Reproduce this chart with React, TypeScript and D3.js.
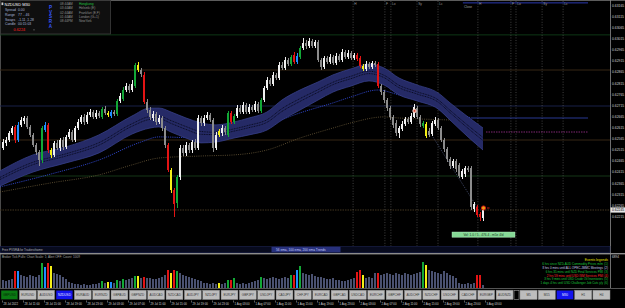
import React from "react";
import * as d3 from "d3";

// Prices are stored in points (0.00001) above BASE_PRICE
const BASE_PRICE = 0.62;

const opens = [
  524, 547, 560, 592, 619, 560, 628, 646, 659, 619,
  583, 538, 506, 470, 605, 628, 515, 493, 547, 524,
  560, 529, 574, 596, 560, 614, 641, 664, 641, 673,
  686, 664, 682, 664, 700, 682, 668, 686, 677, 736,
  745, 785, 803, 785, 803, 898, 875, 853, 731, 695,
  659, 677, 641, 659, 614, 538, 425, 335, 277, 394,
  524, 502, 538, 515, 551, 524, 659, 637, 659, 673,
  650, 524, 583, 592, 614, 583, 682, 641, 668, 704,
  686, 718, 686, 709, 695, 722, 691, 740, 794, 830,
  812, 853, 839, 898, 884, 920, 902, 943, 911, 934,
  974, 997, 983, 1006, 983, 1001, 920, 889, 929, 911,
  934, 907, 938, 920, 956, 934, 952, 929, 943, 929,
  893, 880, 902, 889, 907, 902, 803, 776, 740, 704,
  664, 637, 592, 610, 632, 655, 641, 664, 704, 664,
  623, 632, 601, 587, 632, 650, 614, 560, 520, 475,
  443, 466, 448, 394, 407, 434, 434, 250, 259, 227,
  209,
];
const highs = [
  565, 574, 601, 623, 628, 641, 664, 668, 668, 628,
  592, 547, 515, 623, 641, 637, 524, 556, 560, 569,
  574, 583, 610, 605, 623, 655, 673, 677, 686, 700,
  695, 695, 691, 709, 713, 691, 695, 695, 745, 772,
  799, 817, 812, 830, 907, 911, 884, 866, 745, 709,
  691, 686, 673, 668, 623, 547, 434, 344, 403, 538,
  538, 551, 547, 560, 565, 673, 668, 673, 686, 682,
  659, 596, 610, 628, 623, 691, 691, 677, 718, 718,
  731, 727, 722, 718, 736, 731, 749, 803, 844, 839,
  866, 862, 911, 911, 934, 929, 943, 956, 952, 983,
  1019, 1010, 1019, 1015, 1010, 1010, 929, 938, 938, 947,
  943, 952, 947, 970, 965, 965, 961, 952, 952, 938,
  902, 916, 911, 916, 916, 911, 812, 785, 749, 713,
  673, 650, 623, 646, 664, 664, 682, 722, 713, 673,
  646, 641, 614, 646, 664, 659, 623, 569, 529, 484,
  475, 475, 457, 430, 443, 443, 443, 281, 268, 236,
  254,
];
const lows = [
  515, 533, 551, 583, 547, 551, 619, 632, 610, 574,
  529, 493, 443, 457, 596, 502, 479, 484, 515, 511,
  515, 520, 565, 551, 551, 605, 632, 628, 632, 664,
  655, 655, 659, 655, 673, 664, 659, 668, 668, 727,
  736, 776, 772, 776, 794, 866, 844, 722, 682, 650,
  646, 628, 632, 601, 524, 416, 322, 214, 254, 380,
  488, 488, 502, 502, 515, 515, 623, 623, 650, 641,
  506, 515, 574, 578, 583, 574, 632, 632, 659, 677,
  677, 677, 677, 686, 686, 682, 682, 731, 785, 803,
  803, 830, 830, 875, 875, 893, 893, 902, 902, 925,
  965, 970, 974, 974, 974, 911, 875, 880, 902, 902,
  898, 898, 911, 911, 925, 925, 920, 920, 916, 884,
  871, 871, 880, 880, 889, 794, 763, 727, 691, 650,
  614, 578, 569, 601, 623, 632, 632, 659, 655, 619,
  614, 569, 574, 578, 623, 605, 551, 506, 461, 430,
  434, 416, 389, 385, 394, 416, 245, 236, 214, 196,
  196,
];
const closes = [
  551, 560, 592, 614, 560, 628, 650, 659, 619, 583,
  538, 506, 470, 614, 628, 515, 493, 547, 524, 560,
  529, 574, 596, 560, 614, 641, 664, 641, 673, 686,
  664, 682, 668, 700, 682, 673, 686, 677, 736, 758,
  785, 803, 785, 812, 898, 875, 857, 731, 695, 664,
  677, 641, 659, 614, 538, 425, 335, 272, 394, 524,
  502, 538, 515, 551, 524, 659, 637, 659, 673, 650,
  524, 583, 601, 614, 596, 682, 641, 668, 704, 686,
  718, 686, 709, 695, 722, 691, 740, 794, 830, 812,
  853, 839, 898, 884, 920, 902, 934, 911, 938, 974,
  997, 983, 1006, 983, 1001, 920, 889, 929, 911, 934,
  907, 938, 920, 956, 934, 952, 929, 943, 925, 893,
  880, 902, 889, 907, 898, 803, 776, 740, 704, 664,
  628, 592, 614, 632, 655, 641, 668, 709, 664, 632,
  637, 578, 583, 637, 650, 614, 560, 520, 475, 443,
  466, 430, 398, 421, 434, 425, 259, 272, 223, 214,
  245,
];
const volumes = [
  800, 700, 800, 900, 1700, 1700, 1300, 1200, 1100, 1300,
  1200, 1100, 1300, 2500, 2100, 2500, 2200, 1500, 1400, 1300,
  1100, 900, 600, 500, 400, 400, 350, 400, 300, 350,
  400, 450, 500, 700, 500, 600, 600, 500, 800, 700,
  900, 800, 900, 1000, 1200, 1200, 1000, 1100, 1000, 1000,
  900, 900, 1000, 1100, 1300, 1800, 1500, 1800, 1700, 1500,
  1300, 1200, 1100, 1000, 900, 800, 700, 500, 500, 450,
  500, 450, 500, 400, 500, 800, 800, 1000, 500, 450,
  500, 400, 500, 600, 700, 800, 1100, 1000, 900, 1000,
  1100, 1000, 900, 1000, 1100, 1000, 1300, 1300, 1800, 2200,
  1500, 1400, 1300, 1400, 1200, 1100, 1100, 1000, 900, 900,
  1000, 800, 800, 700, 700, 800, 900, 1000, 1600, 1800,
  1300, 1000, 1100, 1000, 1500, 1500, 1300, 1400, 1500, 1400,
  1300, 1500, 1400, 1300, 1500, 1400, 1300, 1400, 1500, 1600,
  2600, 2300, 1800, 1700, 1600, 1500, 1400, 1700, 1500, 1300,
  1200, 1000, 500, 400, 400, 500, 400, 500, 1300, 1300,
  300,
];
// PVSRA class per candle: G bull climax, R bear climax, B bull rising, Y other rising, . normal
const pvsra = (
  "....RB...." + "...GBRY..." + ".........." + "...G.YB.G." +
  "G...GY.R.." + ".....RYRG." + ".........." + "..Y..GRG.." +
  "......G..." + "......GRBG" + ".........." + "........RR" +
  "Y....R...." + ".........." + "GY........" + "........RR" + "."
).split("");

// EMA envelope (band) and moving averages, sampled at bar indices
const bandBars = [-1, 10, 21, 32, 43, 49, 52, 56, 61, 66, 71, 77, 82, 88, 93, 99, 105, 110, 116, 122, 127, 132, 138, 145, 149, 155, 160];
const bandUpper = [421, 493, 529, 583, 668, 704, 704, 686, 659, 637, 628, 641, 659, 686, 740, 785, 821, 853, 880, 902, 884, 839, 808, 772, 727, 664, 614];
const bandLower = [353, 416, 457, 502, 587, 614, 619, 596, 569, 547, 551, 569, 583, 605, 650, 695, 740, 776, 803, 826, 808, 763, 736, 700, 650, 574, 515];
const ema100Bars = [-1, 16, 32, 46, 52, 66, 77, 88, 99, 110, 116, 125, 132, 142, 149, 156];
const ema100 = [349, 407, 470, 551, 574, 569, 592, 628, 682, 727, 754, 785, 763, 731, 695, 659];
const ema200Bars = [-1, 16, 32, 43, 52, 66, 77, 88, 99, 110, 116, 127, 132, 149, 156];
const ema200 = [326, 367, 403, 448, 479, 488, 493, 515, 569, 614, 637, 664, 659, 650, 646];

const pivotLevels = [1033, 875, 713, 560, 398, 245];
const priceTicks = [1165, 1115, 1065, 1015, 965, 915, 865, 815, 765, 715, 665, 615, 565, 515, 465, 415, 365, 315, 265, 215];
const currentPrice = 245;

const sessionBars = [116.7, 127.3, 129.3, 138, 145, 158.3, 169.3, 171, 179.7, 186.7];
const sessionNames = ["H", "F", "Lo", "Sy", "Lc", "H", "F", "Lo", "Sy", "Lc"];
const closeLevel = 1177;
const closeFromBar = 153.3;
const projEndBar = 195;
const ema100Proj = 659;
const magentaLevel = 596;
const trendBars = [143.3, 158];
const trendPrices = [574, 258];
const signalBars = [137, 160];
const signalPrices = [691, 254];

const timeLabels = [
  "28 Jul 2022", "28 Jul 11:00", "28 Jul 15:00", "28 Jul 19:00", "28 Jul 23:00", "29 Jul 03:00",
  "29 Jul 07:00", "29 Jul 11:00", "29 Jul 15:00", "29 Jul 19:00", "29 Jul 23:00", "1 Aug 03:00",
  "1 Aug 07:00", "1 Aug 11:00", "1 Aug 15:00", "1 Aug 19:00", "1 Aug 23:00", "2 Aug 03:00",
  "2 Aug 07:00", "2 Aug 11:00", "2 Aug 15:00", "2 Aug 19:00", "2 Aug 23:00", "3 Aug 03:00",
];
const pairs = [
  "GBPUSD", "EURUSD", "AUDUSD", "NZDUSD", "EURAUD", "EURNZD", "GBPAUD", "GBPNZD", "AUDCAD", "NZDCAD",
  "AUDJPY", "NZDJPY", "EURJPY", "GBPJPY", "USDJPY", "CADJPY", "CHFJPY", "EURCAD", "GBPCAD", "USDCAD",
  "EURCHF", "GBPCHF", "AUDCHF", "NZDCHF", "USDCHF", "CADCHF", "EURGBP", "AUDNZD",
];
const timeframes = ["M5", "M15", "M30", "H1", "H4"];

const infoLabels = ["Spread", "Range", "Swaps", "Candle"];
const infoValues = ["0.00", "77 .. 46", "-1.11 ,1.28", "00:15:03"];
const clockTimes = ["08:44AM", "03:44AM", "02:44AM", "01:44AM", "08:44PM"];
const clockCities = ["Hongkong", "Helsinki (E)", "Frankfurt (E,F)", "London (G+1)", "NewYork"];
const events = [
  "6 hrs since NZD-AUD Commodity Prices m/m",
  "8 hrs 0 mins until ALL OPEC-JMMC Meetings",
  "6 hrs 35 mins until NZD Final Services PMI",
  "2 hrs 59 mins until USD ISM Services PMI",
  "3 hrs 9 mins until USD Crude Oil Inventories",
  "1 days 4 hrs until USD Challenger Job Cuts y/y",
];
const eventColors = ["#19c23a", "#c4cbe6", "#19c23a", "#ff2a2a", "#19c23a", "#19c23a"];

const COL = {
  G: "#12a836", R: "#e31414", Y: "#f4ef17", B: "#1f8dff",
  bull: "#f0f0f0", bear: "#8c8c8c", vol: "#4a5170",
};
const pivotColors = ["#0f3d17", "#3d2b17", "#1b2550", "#3d2b17", "#163d18", "#4a3a22"];
const FONT = "'Liberation Sans', Arial, sans-serif";

export default function App() {
  const x = d3.scaleLinear().domain([0, 160]).range([3, 483]);
  const y = d3.scaleLinear().domain([245, 1190]).range([210, 0]);
  const vy = d3.scaleLinear().domain([0, 2700]).range([288, 261]);
  const pairX = d3.scaleBand().domain(pairs).range([1, 513]).paddingInner(0.08);
  const tfX = d3.scaleBand().domain(timeframes).range([520, 610]).paddingInner(0.06);

  const candles = closes.map((c, i) => ({
    i, o: opens[i], h: highs[i], l: lows[i], c, v: volumes[i], k: pvsra[i] || ".",
  }));
  const colorOf = (d: any) =>
    d.k === "G" ? COL.G : d.k === "R" ? COL.R : d.k === "Y" ? COL.Y : d.k === "B" ? COL.B : d.c >= d.o ? COL.bull : COL.bear;
  const volColor = (d: any) =>
    d.k === "G" ? COL.G : d.k === "R" ? COL.R : d.k === "Y" ? COL.Y : d.k === "B" ? COL.B : COL.vol;

  const band = bandBars.map((b, j) => ({ b, up: bandUpper[j], lo: bandLower[j] }));
  const area = d3.area<any>().x((d) => x(d.b)).y0((d) => y(d.lo)).y1((d) => y(d.up)).curve(d3.curveMonotoneX);
  const lineUp = d3.line<any>().x((d) => x(d.b)).y((d) => y(d.up)).curve(d3.curveMonotoneX);
  const lineLo = d3.line<any>().x((d) => x(d.b)).y((d) => y(d.lo)).curve(d3.curveMonotoneX);
  const lineMidA = d3.line<any>().x((d) => x(d.b)).y((d) => y(d.up * 0.57 + d.lo * 0.43)).curve(d3.curveMonotoneX);
  const lineMidB = d3.line<any>().x((d) => x(d.b)).y((d) => y(d.up * 0.43 + d.lo * 0.57)).curve(d3.curveMonotoneX);
  const emaLine = d3.line<[number, number]>().x((d) => x(d[0])).y((d) => y(d[1])).curve(d3.curveMonotoneX);
  const e100 = ema100Bars.map((b, j) => [b, ema100[j]] as [number, number]);
  const e200 = ema200Bars.map((b, j) => [b, ema200[j]] as [number, number]);

  const curY = y(currentPrice);

  return (
    <svg width={625} height={308} style={{ position: "fixed", left: 0, top: 0, display: "block", background: "#000" }} fontFamily={FONT}>
      <rect x={0} y={0} width={625} height={308} fill="#000" />
      <line x1={0} x2={625} y1={0.5} y2={0.5} stroke="#5c5c5c" />
      <line x1={0.5} x2={0.5} y1={0} y2={288} stroke="#4a4a4a" />

      {/* pivot levels */}
      {pivotLevels.map((p, j) => (
        <line key={"pv" + j} x1={0} x2={610} y1={y(p)} y2={y(p)} stroke={pivotColors[j]} strokeWidth={0.9}
          strokeDasharray={j === 5 ? "1.5 1" : undefined} />
      ))}

      {/* session verticals */}
      {sessionBars.map((b, j) => (
        <line key={"ss" + j} x1={x(b)} x2={x(b)} y1={1} y2={246} stroke="#5a5a5a" strokeWidth={0.7} strokeDasharray="1 1.6" />
      ))}

      {/* moving averages */}
      <path d={emaLine(e200) || ""} fill="none" stroke="#6b5a3a" strokeWidth={0.8} strokeDasharray="1 1.2" />
      <path d={emaLine(e100) || ""} fill="none" stroke="#2f45c8" strokeWidth={0.9} strokeDasharray="1.2 1" />

      {/* band */}
      <path d={area(band) || ""} fill="#252a66" />
      <path d={lineUp(band) || ""} fill="none" stroke="#363f88" strokeWidth={0.8} />
      <path d={lineLo(band) || ""} fill="none" stroke="#363f88" strokeWidth={0.8} />
      <path d={lineMidA(band) || ""} fill="none" stroke="#06081a" strokeWidth={0.9} strokeDasharray="1 0.7" />
      <path d={lineMidB(band) || ""} fill="none" stroke="#06081a" strokeWidth={0.9} strokeDasharray="1 0.7" />

      {/* projections */}
      <line x1={x(156)} x2={x(projEndBar)} y1={y(ema100Proj)} y2={y(ema100Proj)} stroke="#3447b8" strokeWidth={0.8} />
      <line x1={x(161)} x2={x(projEndBar)} y1={y(magentaLevel)} y2={y(magentaLevel)} stroke="#a0308f" strokeWidth={0.8} strokeDasharray="1.5 1" />
      <line x1={x(trendBars[0])} x2={x(trendBars[1])} y1={y(trendPrices[0])} y2={y(trendPrices[1])} stroke="#5a6590" strokeWidth={0.7} strokeDasharray="1 1.2" />

      {/* candles */}
      <g shapeRendering="crispEdges">
        {candles.map((d) => {
          const xc = Math.round(x(d.i));
          const col = colorOf(d);
          const yt = y(Math.max(d.o, d.c));
          const yb = y(Math.min(d.o, d.c));
          return (
            <g key={"c" + d.i}>
              <rect x={xc} y={y(d.h)} width={1} height={y(d.l) - y(d.h)} fill={col} />
              <rect x={xc - 1} y={yt} width={2} height={Math.max(1, yb - yt)} fill={col} />
            </g>
          );
        })}
      </g>

      {/* signals */}
      <circle cx={x(signalBars[0]) + 0.5} cy={y(signalPrices[0])} r={1.9} fill="#f0a898" stroke="#ffe0d8" strokeWidth={0.5} />
      <circle cx={x(signalBars[0]) + 0.5} cy={y(signalPrices[0])} r={0.8} fill="#d23a2a" />
      <circle cx={x(signalBars[1]) + 0.5} cy={y(signalPrices[1])} r={2.1} fill="#e8a010" stroke="#e01818" strokeWidth={0.9} />
      <line x1={x(signalBars[1]) + 4} x2={x(signalBars[1]) + 6.5} y1={y(signalPrices[1])} y2={y(signalPrices[1])} stroke="#e01818" strokeWidth={0.9} />

      {/* top session labels and close line */}
      <line x1={x(closeFromBar)} x2={x(projEndBar)} y1={y(closeLevel)} y2={y(closeLevel)} stroke="#3040c4" strokeWidth={0.9} />
      <text x={x(closeFromBar) + 1} y={7.5} fontSize={3.2} fill="#a0a0a0">Close</text>
      {sessionBars.map((b, j) => (
        <text key={"sl" + j} x={x(b) + 1.2} y={4.6} fontSize={3.2} fill="#9a9a9a">{sessionNames[j]}</text>
      ))}

      {/* info panel */}
      <rect x={0.5} y={0.5} width={110} height={33.5} fill="#0f0f0f" stroke="#3d3d3d" strokeWidth={0.8} />
      <rect x={1.5} y={2.5} width={1.8} height={2.6} fill="#cfcfcf" />
      <text x={4.5} y={5.6} fontSize={4} fill="#ffffff">NZDUSD   M30</text>
      {infoLabels.map((t, j) => (
        <g key={"il" + j}>
          <text x={5} y={11.3 + j * 4.6} fontSize={3.4} fill="#a9b6d8">{t}</text>
          <text x={18} y={11.3 + j * 4.6} fontSize={3.4} fill="#a9b6d8">{infoValues[j]}</text>
        </g>
      ))}
      <text x={13.5} y={31} fontSize={3.8} fill="#ff2020">{(BASE_PRICE + currentPrice / 100000).toFixed(4)}</text>
      <circle cx={34} cy={29.8} r={0.6} fill="#888" />
      {"PVSRA".split("").map((ch, j) => (
        <text key={"pv" + j} x={50.5} y={8.8 + j * 4.7} fontSize={4.6} fontWeight="bold" fill="#3555ff" textAnchor="middle">{ch}</text>
      ))}
      {clockTimes.map((t, j) => (
        <g key={"ck" + j}>
          <text x={60} y={4.7 + j * 4.4} fontSize={3.2} fill="#8f8f8f">{t}</text>
          <text x={79} y={4.7 + j * 4.4} fontSize={3.2} fill={j === 0 ? "#22c23f" : "#8f8f8f"}>{clockCities[j]}</text>
        </g>
      ))}

      {/* price axis */}
      <line x1={610.5} x2={610.5} y1={0} y2={288} stroke="#8a8a8a" strokeWidth={0.8} />
      {priceTicks.filter((t) => Math.abs(y(t) - curY) > 4).map((t) => (
        <text key={"pt" + t} x={612} y={y(t) + 1.2} fontSize={3.4} fill="#d2d2d2">{(BASE_PRICE + t / 100000).toFixed(5)}</text>
      ))}
      <rect x={610.5} y={curY - 2.6} width={14.5} height={5.2} fill="#e6e6e6" />
      <text x={612} y={curY + 1.2} fontSize={3.4} fill="#000">{(BASE_PRICE + currentPrice / 100000).toFixed(5)}</text>

      {/* green info box */}
      <rect x={452} y={232} width={63} height={5.2} fill="#86d996" stroke="#b8efc2" strokeWidth={0.4} />
      <text x={483.5} y={235.8} fontSize={3.2} fill="#1c3a22" textAnchor="middle">Vol: 1.0 / 5 - 476.4 - m5e 4/d</text>

      {/* bottom strip of main window */}
      <rect x={0} y={246.5} width={610} height={6} fill="#070a1d" stroke="#1d2452" strokeWidth={0.6} />
      <text x={2} y={251.1} fontSize={3} fill="#b0b0b0">Free PVSRA for Tradersthome</text>
      <rect x={271.5} y={246.8} width={69} height={5.5} fill="#28317c" />
      <text x={276} y={251.1} fontSize={3.2} fill="#c8d0ff">56 ema, 100 ema, 200 ema Trends</text>
      <rect x={0} y={253} width={625} height={1.4} fill="#8c8c8c" />

      {/* volume window */}
      <g shapeRendering="crispEdges">
        {candles.map((d) => {
          const xc = Math.round(x(d.i));
          return <rect key={"v" + d.i} x={xc - 1} y={vy(d.v)} width={2} height={288 - vy(d.v)} fill={volColor(d)} />;
        })}
      </g>
      <text x={2} y={258.3} fontSize={3.1} fill="#a4a4a4">Broker Tick Pulls:  Chart Scale: 1;  Alert OFF;  Count: 1009</text>
      <text x={612} y={257.5} fontSize={3.2} fill="#cfcfcf">6894</text>
      <text x={608} y={260.6} fontSize={3.4} fill="#e4e000" textAnchor="end">Events legends</text>
      {events.map((e, j) => (
        <g key={"ev" + j}>
          <text x={603} y={264.8 + j * 3.9} fontSize={3} fill={eventColors[j]} textAnchor="end">{e}</text>
          <text x={604.3} y={264.8 + j * 3.9} fontSize={3} fill={eventColors[j]}>{"(" + (j + 1) + ")"}</text>
        </g>
      ))}
      <line x1={0} x2={625} y1={288.5} y2={288.5} stroke="#6a6a6a" strokeWidth={0.8} />

      {/* buttons */}
      {pairs.map((p, j) => {
        const sel = p === "GBPUSD" ? "g" : p === "NZDUSD" ? "b" : "";
        return (
          <g key={"bt" + p}>
            <rect x={pairX(p)} y={290.2} width={pairX.bandwidth()} height={9.3}
              fill={sel === "g" ? "#0a7a12" : sel === "b" ? "#1414ee" : "#bdbdbd"} stroke={sel ? "#101010" : "#8a8a8a"} strokeWidth={0.5} />
            <text x={(pairX(p) || 0) + pairX.bandwidth() / 2} y={296.1} fontSize={3.1} textAnchor="middle"
              fill={sel === "b" ? "#e8e8ff" : sel === "g" ? "#062a08" : "#3a3a3a"}>{p}</text>
          </g>
        );
      })}
      <rect x={514} y={290.5} width={5} height={8.8} fill="#000" stroke="#bbb" strokeWidth={0.5} />
      {timeframes.map((t) => (
        <g key={"tf" + t}>
          <rect x={tfX(t)} y={290.2} width={tfX.bandwidth()} height={9.3} fill={t === "M30" ? "#1414ee" : "#bdbdbd"}
            stroke={t === "M30" ? "#101010" : "#8a8a8a"} strokeWidth={0.5} />
          <text x={(tfX(t) || 0) + tfX.bandwidth() / 2} y={296.1} fontSize={3.1} textAnchor="middle"
            fill={t === "M30" ? "#e8e8ff" : "#3a3a3a"}>{t}</text>
        </g>
      ))}

      {/* time axis */}
      {timeLabels.map((t, k) => (
        <g key={"tl" + k}>
          <line x1={x(k * 7) - 0.5} x2={x(k * 7) - 0.5} y1={300.5} y2={302.5} stroke="#bdbdbd" strokeWidth={0.5} />
          <text x={x(k * 7) + 0.5} y={304.6} fontSize={2.8} fill="#d4d4d4">{t}</text>
        </g>
      ))}
    </svg>
  );
}
